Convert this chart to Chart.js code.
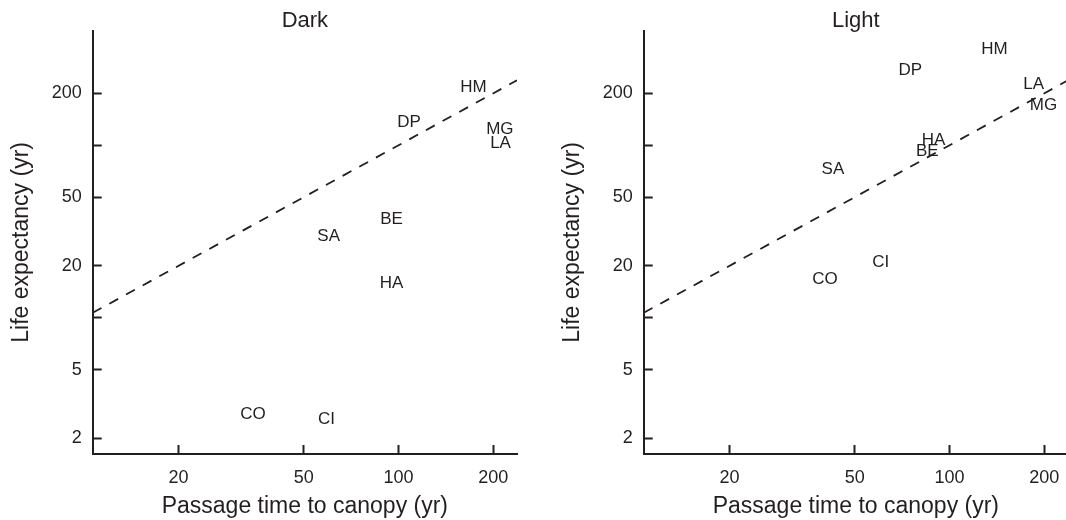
<!DOCTYPE html>
<html>
<head>
<meta charset="utf-8">
<script src="https://cdn.jsdelivr.net/npm/chart.js@4.4.0/dist/chart.umd.min.js"></script>
<style>
    html, body { margin: 0; padding: 0; background: #fff; overflow: hidden; }
    body { width: 1066px; height: 520px; position: relative; }
    .panel { position: absolute; top: 0; width: 540px; height: 520px; }
    #dark-panel { left: 0; }
    #light-panel { left: 551px; }
</style>
</head>
<body>
<div class="panel" id="dark-panel"><canvas id="darkChart" width="540" height="520"></canvas></div>
<div class="panel" id="light-panel"><canvas id="lightChart" width="540" height="520"></canvas></div>
<script>
// species codes, used as the plot symbols
const species = ['HM', 'DP', 'MG', 'LA', 'BE', 'SA', 'HA', 'CO', 'CI'];

// Dark panel: passage time to canopy (yr) vs life expectancy (yr)
const darkPassage = [173, 108, 210, 211, 95, 60, 95, 34.5, 59];
const darkLife = [216, 135, 123, 103, 37, 29.5, 15.9, 2.77, 2.58];

// Light panel
const lightPassage = [139, 75, 199, 185, 85, 42.6, 89, 40.2, 60.5];
const lightLife = [360, 272, 171, 227, 92.5, 72.4, 107, 16.8, 20.9];

// dashed 1:1 line, end points
const fitPassage = [10.67, 238];
const fitLife = [10.67, 238];

// axes
const xMin = 10.67, xMax = 238;
const yMin = 1.62, yMax = 461;
const xTicks = [20, 50, 100, 200];
const xTickLabels = ['20', '50', '100', '200'];
const yTicks = [2, 5, 10, 20, 50, 100, 200];
const yTickLabels = ['2', '5', '', '20', '50', '', '200'];

const ink = '#231f20';
const family = '"Liberation Sans", Arial, Helvetica, sans-serif';

// draws each species code where its point sits
const codeLabels = {
    id: 'codeLabels',
    afterDatasetsDraw(chart) {
        const meta = chart.getDatasetMeta(0);
        const ctx = chart.ctx;
        ctx.save();
        ctx.font = '17px ' + family;
        ctx.fillStyle = ink;
        ctx.textAlign = 'center';
        ctx.textBaseline = 'middle';
        meta.data.forEach((pt, i) => {
            ctx.fillText(species[i], pt.x, pt.y);
        });
        ctx.restore();
    }
};

function build_chart(canvasId, title, passage, life) {
    const points = passage.map((x, i) => ({ x: x, y: life[i] }));
    const fit = fitPassage.map((x, i) => ({ x: x, y: fitLife[i] }));

    return new Chart(document.getElementById(canvasId), {
        type: 'scatter',
        data: {
            datasets: [{
                data: points,
                pointRadius: 0,
                pointHoverRadius: 0
            }, {
                type: 'line',
                data: fit,
                borderColor: ink,
                borderWidth: 1.8,
                borderDash: [10, 9],
                pointRadius: 0,
                fill: false,
                tension: 0
            }]
        },
        options: {
            responsive: false,
            animation: false,
            devicePixelRatio: 1,
            layout: { padding: { left: 0, right: 23, top: 0, bottom: 0 } },
            plugins: {
                legend: { display: false },
                tooltip: { enabled: false },
                title: {
                    display: true,
                    text: title,
                    color: ink,
                    fullSize: false,
                    font: { family: family, size: 22, weight: 'normal', lineHeight: 1 },
                    padding: { top: 9, bottom: -1 }
                }
            },
            scales: {
                x: {
                    type: 'logarithmic',
                    min: xMin,
                    max: xMax,
                    bounds: 'data',
                    afterBuildTicks: scale => { scale.ticks = xTicks.map(v => ({ value: v })); },
                    afterFit: scale => { scale.height = 66; },
                    ticks: {
                        callback: (value, index) => xTickLabels[index],
                        color: ink,
                        font: { family: family, size: 18 },
                        padding: 22.6,
                        autoSkip: false,
                        maxRotation: 0
                    },
                    grid: { drawOnChartArea: false, drawTicks: true, tickLength: -9, tickWidth: 2, tickColor: ink },
                    border: { display: true, color: ink, width: 2 },
                    title: {
                        display: true,
                        text: 'Passage time to canopy (yr)',
                        color: ink,
                        font: { family: family, size: 23 },
                        padding: { top: 0, bottom: 0 }
                    }
                },
                y: {
                    type: 'logarithmic',
                    min: yMin,
                    max: yMax,
                    bounds: 'data',
                    afterBuildTicks: scale => { scale.ticks = yTicks.map(v => ({ value: v })); },
                    afterFit: scale => { scale.width = 92.7; },
                    ticks: {
                        callback: (value, index) => yTickLabels[index],
                        color: ink,
                        font: { family: family, size: 18 },
                        padding: 20,
                        autoSkip: false
                    },
                    grid: { drawOnChartArea: false, drawTicks: true, tickLength: -9, tickWidth: 2, tickColor: ink },
                    border: { display: true, color: ink, width: 2 },
                    title: {
                        display: true,
                        text: 'Life expectancy (yr)',
                        color: ink,
                        font: { family: family, size: 23 },
                        padding: { top: 8, bottom: 0 }
                    }
                }
            }
        },
        plugins: [codeLabels]
    });
}

document.addEventListener('DOMContentLoaded', () => {
    build_chart('darkChart', 'Dark', darkPassage, darkLife);
    build_chart('lightChart', 'Light', lightPassage, lightLife);
});
</script>
</body>
</html>
